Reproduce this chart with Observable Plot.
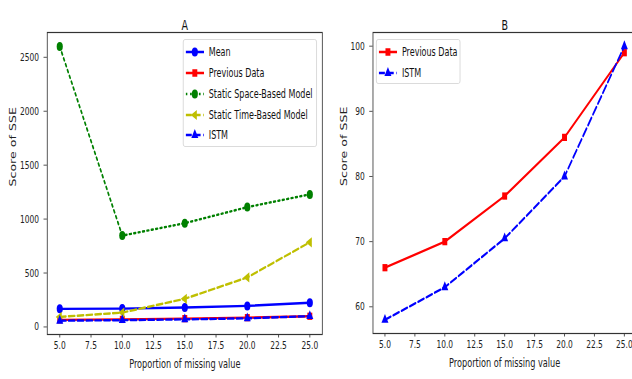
<!DOCTYPE html>
<html><head><meta charset="utf-8">
<script src="https://cdn.jsdelivr.net/npm/d3@7"></script>
<script src="https://cdn.jsdelivr.net/npm/@observablehq/plot@0.6"></script>
<style>
html,body{margin:0;padding:0;background:#fff;overflow:hidden;width:632px;height:379px}
#wrap{position:absolute;left:0;top:0;width:945px;height:379px;transform:scaleX(0.68);transform-origin:0 0;font-family:"DejaVu Sans",sans-serif}
.panel{position:absolute;top:0}
.legend{position:absolute;background:rgba(255,255,255,0.85);border:1px solid #d4d4d4;border-radius:3px;font-size:11.8px;color:#111;box-sizing:border-box;padding-top:2px}
.legend .row{display:flex;align-items:center;height:20.75px;white-space:nowrap}
.legend svg{display:block;margin-left:3px;margin-right:7px}
</style></head><body><div id="wrap"></div>
<script>
// ---- data ----
const proportion = [5, 10, 15, 20, 25];
const meanSSE = [168, 170, 180, 195, 225];
const previousSSE = [66, 70, 77, 86, 99];
const spaceSSE = [2600, 847, 962, 1111, 1229];
const timeSSE = [93, 133, 261, 459, 785];
const istmSSE = [58, 63, 70.5, 80, 100];
const xTicks = [5, 7.5, 10, 12.5, 15, 17.5, 20, 22.5, 25];
const yTicksA = [0, 500, 1000, 1500, 2000, 2500];
const yTicksB = [60, 70, 80, 90, 100];
const seriesNamesA = ["Mean", "Previous Data", "Static Space-Based Model", "Static Time-Based Model", "ISTM"];
const seriesValuesA = [meanSSE, previousSSE, spaceSSE, timeSSE, istmSSE];
const seriesNamesB = ["Previous Data", "ISTM"];
const seriesValuesB = [previousSSE, istmSSE];

// ---- styles ----
const styles = {
  "Mean": {color: "#0000ff", symbol: "circle", dash: null, r: 4.5, rotate: 0},
  "Previous Data": {color: "#ff0000", symbol: "square", dash: null, r: 4.1, rotate: 0},
  "Static Space-Based Model": {color: "#008000", symbol: "circle", dash: "2.5,4", r: 4.5, rotate: 0},
  "Static Time-Based Model": {color: "#bfbf00", symbol: "triangle", dash: "9,4", r: 3.8, rotate: -90},
  "ISTM": {color: "#0000ff", symbol: "triangle", dash: "9,4", r: 3.8, rotate: 0}
};
const FONT = "DejaVu Sans, sans-serif";

function makePanel({names, values, yDomain, yTicks, title, width, marginLeft, marginRight, marginBottom, yLabelDx}) {
  const marks = [];
  names.forEach((name, k) => {
    const st = styles[name];
    const rows = proportion.map((p, i) => ({x: p, y: values[k][i]}));
    marks.push(Plot.line(rows, {x: "x", y: "y", stroke: st.color, strokeWidth: 2.4, strokeDasharray: st.dash}));
    marks.push(Plot.dot(rows, {x: "x", y: "y", symbol: st.symbol, r: st.r, fill: st.color, stroke: "none", rotate: st.rotate}));
  });
  marks.push(Plot.frame({stroke: "#333", strokeWidth: 1.2}));
  marks.push(Plot.axisX({ticks: xTicks, tickFormat: d => d.toFixed(1), tickSize: 3.5, tickPadding: 3, fontSize: 11, label: null, stroke: "#333", fill: "#222"}));
  marks.push(Plot.axisY({ticks: yTicks, tickFormat: d => String(d), tickSize: 5, tickPadding: 7, fontSize: 11, label: null, stroke: "#333", fill: "#222"}));
  marks.push(Plot.text(["Proportion of missing value"], {text: d => d, frameAnchor: "bottom", dy: 33, fontSize: 12, fill: "#222"}));
  marks.push(Plot.text(["Score of SSE"], {text: d => d, frameAnchor: "left", dx: yLabelDx, dy: 3, rotate: -90, fontSize: 12.6, fill: "#222"}));
  marks.push(Plot.text([title], {text: d => d, frameAnchor: "top", dy: -12, fontSize: 14, fill: "#111"}));
  return Plot.plot({
    width, height: 379, marginLeft, marginRight, marginTop: 32, marginBottom,
    x: {domain: [4, 26]},
    y: {domain: yDomain},
    style: {fontFamily: FONT, background: "transparent", overflow: "visible"},
    marks
  });
}

function makeLegend(names, left, top, width, height) {
  const div = document.createElement("div");
  div.className = "legend";
  Object.assign(div.style, {left: left + "px", top: top + "px", width: width + "px", height: height + "px"});
  for (const name of names) {
    const st = styles[name];
    const row = document.createElement("div");
    row.className = "row";
    const svg = d3.create("svg").attr("width", 27).attr("height", 20);
    svg.append("line").attr("x1", 0).attr("x2", 27).attr("y1", 10).attr("y2", 10)
      .attr("stroke", st.color).attr("stroke-width", 2.4).attr("stroke-dasharray", st.dash);
    const symMap = {circle: d3.symbolCircle, square: d3.symbolSquare, triangle: d3.symbolTriangle};
    svg.append("path").attr("d", d3.symbol(symMap[st.symbol], Math.PI * st.r * st.r)())
      .attr("transform", `translate(13.5,10) rotate(${st.rotate})`).attr("fill", st.color);
    row.appendChild(svg.node());
    const span = document.createElement("span");
    span.textContent = name;
    row.appendChild(span);
    div.appendChild(row);
  }
  return div;
}

const wrap = document.getElementById("wrap");
const a = makePanel({names: seriesNamesA, values: seriesValuesA, yDomain: [-70, 2730], yTicks: yTicksA, title: "A",
  width: 485, marginLeft: 69, marginRight: 11.5, marginBottom: 45, yLabelDx: -50.7});
a.classList.add("panel"); a.style.left = "0px";
wrap.appendChild(a);
const b = makePanel({names: seriesNamesB, values: seriesValuesB, yDomain: [55.9, 102.1], yTicks: yTicksB, title: "B",
  width: 455, marginLeft: 63, marginRight: 4.7, marginBottom: 46, yLabelDx: -42.7});
b.classList.add("panel"); b.style.left = "485px";
wrap.appendChild(b);
wrap.appendChild(makeLegend(seriesNamesA, 269, 39, 197, 108));
wrap.appendChild(makeLegend(seriesNamesB, 553, 39, 124, 45));
</script></body></html>
